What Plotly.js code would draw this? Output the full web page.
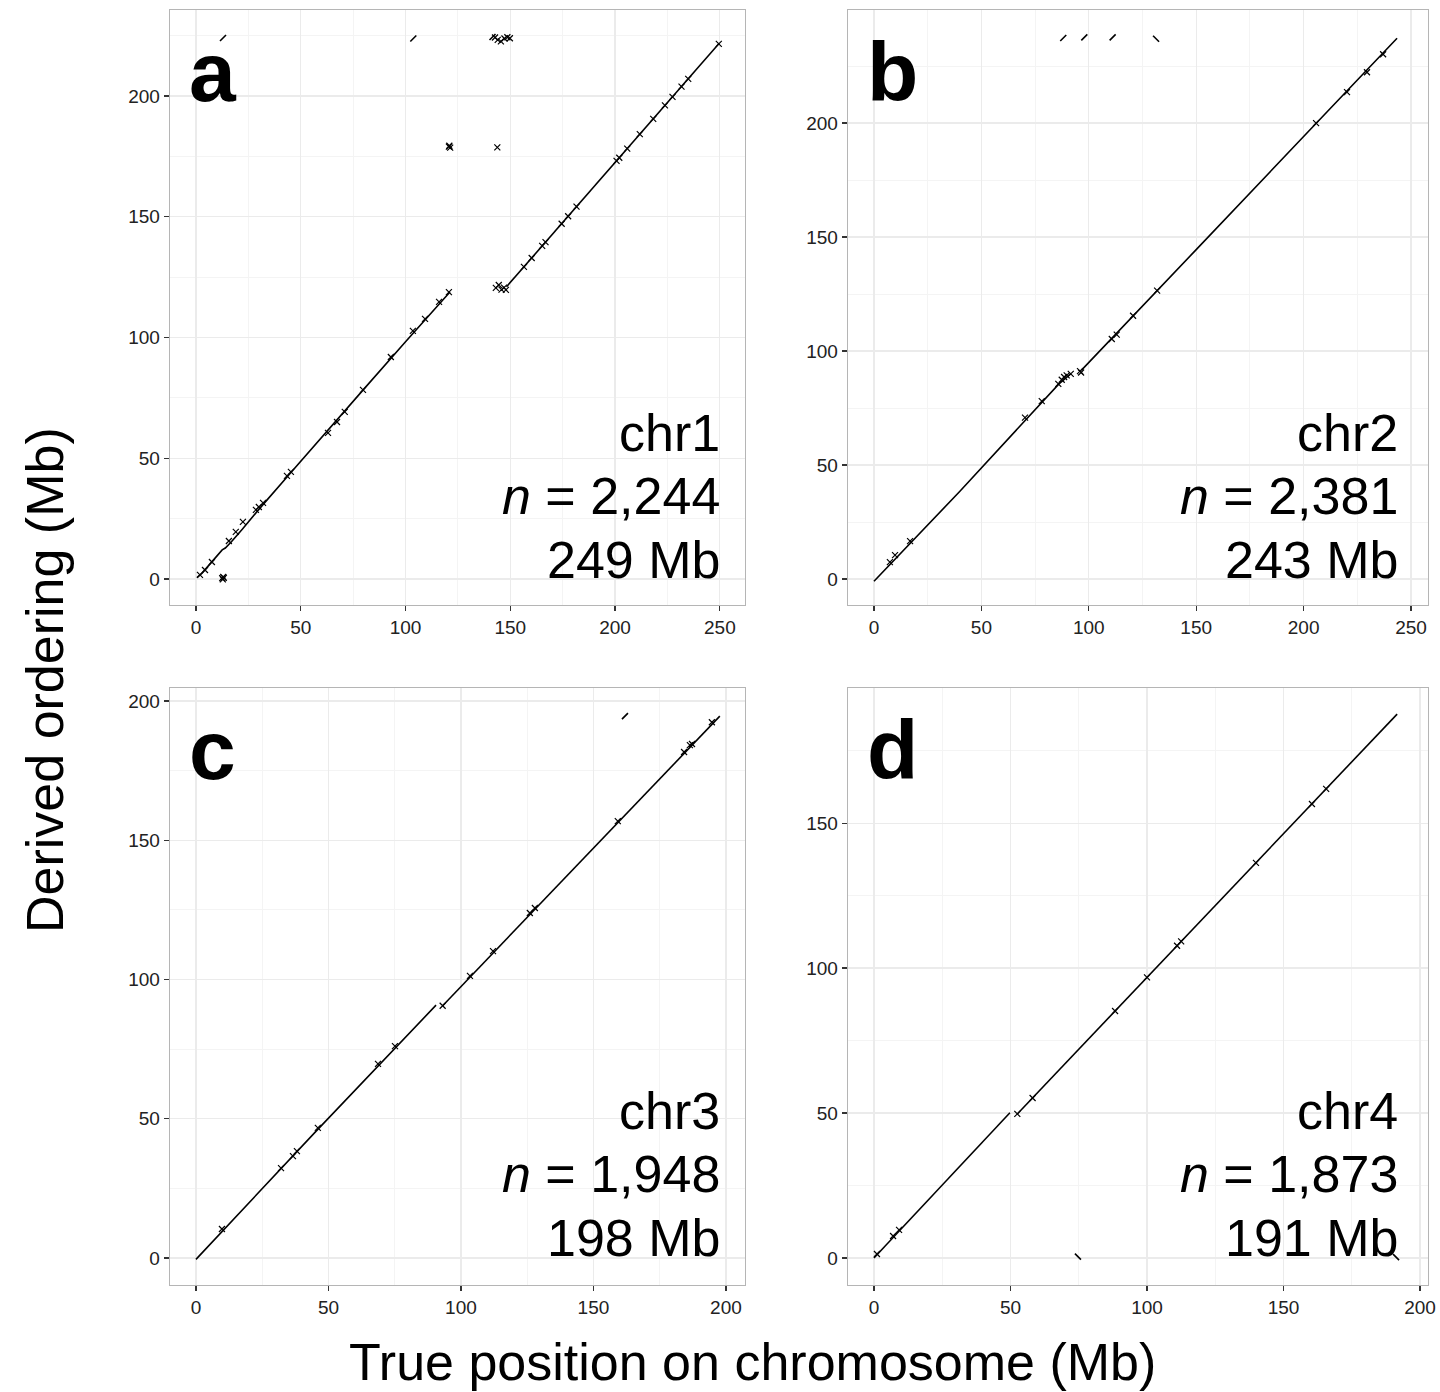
<!DOCTYPE html>
<html>
<head>
<meta charset="utf-8">
<script src="https://cdn.plot.ly/plotly-3.0.1.min.js"></script>
<style>html,body{margin:0;padding:0;background:#fff;}#chart{width:1440px;height:1392px;}</style>
</head>
<body>
<div id="chart"></div>
<script>
// ---------- Data (Mb) ----------
// Panel a: chr1
const chr1LineX = [0.5, 3, 6, 9, 11, 12.5, 14, 17, 22, 30, 45, 60, 80, 100, 121.2, null, 148.2, 160, 180, 200, 220, 249.7];
const chr1LineY = [0.5, 2.5, 5.5, 8.5, 10.5, 12, 12.8, 15.5, 20.5, 28.8, 43.8, 58.8, 78.5, 98.2, 118.8, null, 121, 132.7, 152.6, 172.5, 192.3, 221.8];
const chr1CrossX = [1.9, 4.3, 7.6, 15.7, 19, 22.4, 28.6, 30, 32, 43.4, 45.3, 63, 67.3, 71, 79.7, 93, 103.5, 109.3, 116, 120.7,
  156.5, 160.2, 165.2, 166.8, 174.5, 177.6, 181.6, 200.7, 202, 205.8, 211.8, 218.2, 223.8, 227.4, 231.7, 234.9, 249.5,
  12.5, 13, 12.8, 13.3, 120.7, 121.3, 120.9, 143.8, 143.1, 144.5, 145.8, 147, 147.9, 142.7, 144, 145.5, 147.2, 148.6, 149.8];
const chr1CrossY = [1.7, 3.7, 7, 15.7, 19.5, 23.6, 28.6, 29.8, 31.5, 42.7, 44.3, 60.5, 65, 69.2, 78.3, 91.9, 102.7, 107.7, 114.7, 118.8,
  129.2, 132.9, 137.9, 139.5, 147.1, 150.2, 154.2, 173.1, 174.4, 178.2, 184.2, 190.5, 196.1, 199.6, 203.9, 207.1, 221.6,
  0.3, 0.8, -0.2, 0.4, 179, 178.6, 179.4, 178.7, 120.5, 121.7, 119.8, 120.6, 119.7, 224.2, 223.2, 222.6, 223.8, 224.3, 223.9];
const chr1SlashX = [12.9, 103.7, 141.5];
const chr1SlashY = [224, 223.8, 224.4];

// Panel b: chr2
const chr2LineX = [0, 40, 86, 88, 91.5, null, 96.5, 97.3, 150, 200, 243.5];
const chr2LineY = [-1, 38.5, 85.5, 87, 90, null, 91.5, 92.3, 144.5, 194.1, 237.2];
const chr2CrossX = [7.4, 9.8, 16.8, 70.3, 78.1, 85.8, 87.4, 88.5, 89.7, 91.6, 95.9, 96.4, 110.7, 113, 120.6, 131.8, 205.8, 220.2, 229.5, 237];
const chr2CrossY = [7.4, 10.5, 16.6, 70.8, 78, 85.6, 87.4, 88.6, 89.3, 90, 91.2, 90.6, 105.3, 107.2, 115.5, 126.5, 200, 213.6, 222.3, 230.2];
const chr2SlashX = [88.1, 97.9, 111.1];
const chr2SlashY = [237.3, 237.6, 237.6];
const chr2BackX = [131.3];
const chr2BackY = [237];

// Panel c: chr3
const chr3LineX = [0, 45, 90.6, null, 93.1, 150, 197.7];
const chr3LineY = [-0.5, 45.2, 90.8, null, 90.6, 147.1, 194.6];
const chr3CrossX = [9.8, 32.1, 36.6, 38.1, 46, 68.7, 75.1, 93.1, 103.4, 112.1, 126, 127.9, 159.2, 184.2, 186.4, 187.2, 194.7];
const chr3CrossY = [10.4, 32.3, 36.6, 38.4, 46.7, 69.7, 76.1, 90.6, 101.3, 110.2, 123.9, 125.7, 156.9, 181.7, 184.2, 184.6, 192.4];
const chr3SlashX = [161.9];
const chr3SlashY = [194.6];

// Panel d: chr4
const chr4LineX = [0, 25, 49.8, null, 52.5, 120, 191.6];
const chr4LineY = [0, 25, 50.1, null, 49.7, 116.6, 187.6];
const chr4CrossX = [1.1, 7, 9.2, 52.5, 58.1, 88.3, 100, 111, 112.5, 139.9, 160.4, 165.6];
const chr4CrossY = [1.4, 7.6, 9.7, 49.7, 55.2, 85.2, 96.8, 107.7, 109.2, 136.3, 156.6, 161.8];
const chr4BackX = [74.7, 191.2];
const chr4BackY = [0.5, 0.3];

// Labels
const panelLetters = ["a", "b", "c", "d"];
const chrNames = ["chr1", "chr2", "chr3", "chr4"];
const markerCounts = ["2,244", "2,381", "1,948", "1,873"];
const chrLengths = ["249 Mb", "243 Mb", "198 Mb", "191 Mb"];
const xTitle = "True position on chromosome (Mb)";
const yTitle = "Derived ordering (Mb)";

// ---------- Traces ----------
const axes = [["x", "y"], ["x2", "y2"], ["x3", "y3"], ["x4", "y4"]];
const traces = [];
function addPanel(i, lx, ly, cx, cy, sx, sy, bx, by) {
  const [xa, ya] = axes[i];
  traces.push({x: lx, y: ly, xaxis: xa, yaxis: ya, mode: "lines", type: "scatter",
    line: {color: "#000", width: 1.6}, connectgaps: false, hoverinfo: "skip"});
  traces.push({x: cx, y: cy, xaxis: xa, yaxis: ya, mode: "markers", type: "scatter",
    marker: {symbol: "x-thin", size: 6, color: "#000", line: {color: "#000", width: 1.2}}});
  if (sx) traces.push({x: sx, y: sy, xaxis: xa, yaxis: ya, mode: "markers", type: "scatter",
    marker: {symbol: "line-ne", size: 6, color: "#000", line: {color: "#000", width: 1.6}}});
  if (bx) traces.push({x: bx, y: by, xaxis: xa, yaxis: ya, mode: "markers", type: "scatter",
    marker: {symbol: "line-nw", size: 6, color: "#000", line: {color: "#000", width: 1.6}}});
}
addPanel(0, chr1LineX, chr1LineY, chr1CrossX, chr1CrossY, chr1SlashX, chr1SlashY, null, null);
addPanel(1, chr2LineX, chr2LineY, chr2CrossX, chr2CrossY, chr2SlashX, chr2SlashY, chr2BackX, chr2BackY);
addPanel(2, chr3LineX, chr3LineY, chr3CrossX, chr3CrossY, chr3SlashX, chr3SlashY, null, null);
addPanel(3, chr4LineX, chr4LineY, chr4CrossX, chr4CrossY, null, null, chr4BackX, chr4BackY);

// ---------- Layout ----------
const W = 1440, H = 1392;
const px = v => v / W, py = v => 1 - v / H;
function axisCommon(extra) {
  return Object.assign({
    showgrid: true, gridcolor: "#ebebeb", gridwidth: 1.2, zeroline: false,
    showline: true, linecolor: "#b5b5b5", linewidth: 1.3, mirror: true,
    ticks: "outside", ticklen: 5, tickwidth: 1.2, tickcolor: "#333",
    tickfont: {family: "Liberation Sans, Arial, sans-serif", size: 19, color: "#222"},
    fixedrange: true
  }, extra);
}
const colDom = [[px(170), px(745)], [px(848), px(1428)]];
const rowDom = [[py(605), py(10)], [py(1285), py(688)]];
const xRanges = [[-12.4, 262], [-12.1, 257.9], [-9.8, 207.2], [-9.5, 202.9]];
const yRanges = [[-10.8, 235.6], [-11.4, 249.6], [-9.7, 204.7], [-9.3, 196.6]];

const layout = {
  width: W, height: H, margin: {l: 0, r: 0, t: 0, b: 0},
  paper_bgcolor: "#fff", plot_bgcolor: "#fff", showlegend: false,
  font: {family: "Liberation Sans, Arial, sans-serif", color: "#000"},
  annotations: []
};
for (let i = 0; i < 4; i++) {
  const col = i % 2, row = Math.floor(i / 2);
  const xk = i === 0 ? "xaxis" : "xaxis" + (i + 1);
  const yk = i === 0 ? "yaxis" : "yaxis" + (i + 1);
  const yid = i === 0 ? "y" : "y" + (i + 1);
  const xid = i === 0 ? "x" : "x" + (i + 1);
  const yTop = yRanges[i][1];
  layout[xk] = axisCommon({domain: colDom[col], range: xRanges[i], tickvals: [0, 50, 100, 150, 200, 250], anchor: yid,
    minor: {showgrid: true, gridcolor: "#f4f4f4", gridwidth: 1, tickvals: [25, 75, 125, 175, 225], ticks: ""}});
  const yTicks = [0, 50, 100, 150, 200, 250].filter(v => v < yTop - 3);
  layout[yk] = axisCommon({domain: rowDom[row], range: yRanges[i], tickvals: yTicks, anchor: xid,
    minor: {showgrid: true, gridcolor: "#f4f4f4", gridwidth: 1, tickvals: [25, 75, 125, 175, 225], ticks: ""}});

  const left = col === 0 ? 187 : 865;
  const right = col === 0 ? 722 : 1400;
  const topOff = row === 0 ? 0 : 678;
  layout.annotations.push({xref: "paper", yref: "paper", x: px(left), y: py(topOff + 72),
    xanchor: "left", yanchor: "middle", showarrow: false, text: "<b>" + panelLetters[i] + "</b>",
    font: {family: "Liberation Sans, Arial, sans-serif", size: 84, color: "#000"}});
  const lines = [chrNames[i], "<i>n</i> = " + markerCounts[i], chrLengths[i]];
  const ys = [433, 496, 560];
  lines.forEach((t, k) => layout.annotations.push({xref: "paper", yref: "paper", x: px(right),
    y: py(topOff + ys[k]), xanchor: "right", yanchor: "middle", showarrow: false, text: t,
    font: {family: "Liberation Sans, Arial, sans-serif", size: 52, color: "#000"}}));
}
layout.annotations.push({xref: "paper", yref: "paper", x: px(752), y: py(1362), xanchor: "center", yanchor: "middle",
  showarrow: false, text: xTitle, font: {family: "Liberation Sans, Arial, sans-serif", size: 52, color: "#000"}});
layout.annotations.push({xref: "paper", yref: "paper", x: px(45), y: py(680), xanchor: "center", yanchor: "middle",
  textangle: -90, showarrow: false, text: yTitle, font: {family: "Liberation Sans, Arial, sans-serif", size: 52, color: "#000"}});

Plotly.newPlot("chart", traces, layout, {staticPlot: true, displayModeBar: false});
</script>
</body>
</html>
